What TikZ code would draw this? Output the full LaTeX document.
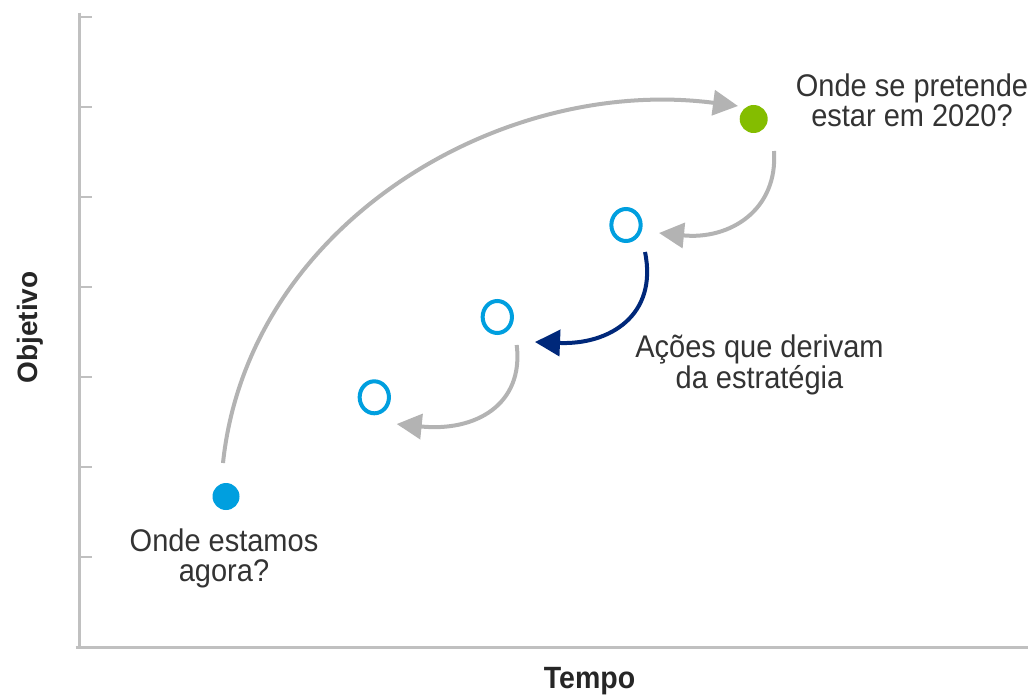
\documentclass[tikz,border=0pt]{standalone}
\usepackage{fontspec}
\usepackage{graphicx}
\setmainfont{Liberation Sans}
\usetikzlibrary{arrows.meta,shapes.geometric}
\definecolor{axisgray}{HTML}{C0C0C0}
\definecolor{arrowgray}{HTML}{B3B3B3}
\definecolor{navyblue}{HTML}{00287A}
\definecolor{skyblue}{HTML}{009FDF}
\definecolor{leafgreen}{HTML}{84BD00}
\definecolor{txtgray}{HTML}{333333}
\definecolor{boldgray}{HTML}{262626}
\newcommand\vstretch[1]{\scalebox{1}[1.08]{#1}}
\begin{document}
\begin{tikzpicture}[x=1bp,y=-1bp,
  axisline/.style={draw=axisgray,line width=3bp},
  tickmark/.style={draw=axisgray,line width=2.6bp},
  grayarrow/.style={draw=arrowgray,line width=4bp,-{Triangle[length=25bp,width=25bp]}},
  navyarrow/.style={draw=navyblue,line width=4bp,-{Triangle[length=25bp,width=26bp]}},
  dotnode/.style={circle,inner sep=0pt,minimum size=27bp},
  ringnode/.style={ellipse,draw=skyblue,line width=4bp,inner sep=0pt,minimum width=29.3bp,minimum height=32bp},
  lbl/.style={inner sep=0pt,text=txtgray,font=\fontsize{29bp}{25bp}\selectfont},
  lblbold/.style={inner sep=0pt,text=boldgray,font=\fontsize{28.5bp}{28.5bp}\selectfont\bfseries}
]
\useasboundingbox (0,0) rectangle (1035,695);
% axes
\draw[axisline] (79,12.7) -- (79,648.5);
\draw[axisline] (75.7,647.3) -- (1027.7,647.3);
\foreach \ty in {17,107,197,287,377,467,557}
  \draw[tickmark] (79,\ty) -- (92,\ty);
% points
\node[dotnode,fill=skyblue] (now) at (226,496.5) {};
\node[dotnode,fill=leafgreen,minimum size=28bp] (goal) at (753.7,119) {};
\node[ringnode] (act1) at (626,225) {};
\node[ringnode] (act2) at (497.3,317) {};
\node[ringnode] (act3) at (374.3,397.3) {};
% labels
\node[lbl,anchor=base] (goaltext) at (912,97)
  {\vstretch{\begin{tabular}[t]{@{}c@{}}Onde se pretende\\estar em 2020?\end{tabular}}};
\node[lbl,anchor=base] (acttext) at (759.5,357)
  {\vstretch{\begin{tabular}[t]{@{}c@{}}Ações que derivam\\da estratégia\end{tabular}}};
\node[lbl,anchor=base] (nowtext) at (224,551.5)
  {\vstretch{\begin{tabular}[t]{@{}c@{}}Onde estamos\\agora?\end{tabular}}};
\node[lblbold,anchor=base] (xlabel) at (589.5,688) {\vstretch{Tempo}};
\node[lblbold,anchor=base,rotate=90,font=\fontsize{28bp}{28bp}\selectfont\bfseries] (ylabel) at (37,327.5) {Objetivo};
% connector end points
\coordinate (bigstart) at ([shift={(-3,-33.5)}]now.center);
\coordinate (bigend) at ([shift={(-15.7,-13)}]goal.center);
\coordinate (g1start) at ([shift={(20.3,32)}]goal.center);
\coordinate (g1end) at ([shift={(33,8)}]act1.center);
\coordinate (n1start) at ([shift={(19,27)}]act1.center);
\coordinate (n1end) at ([shift={(37.7,25)}]act2.center);
\coordinate (g2start) at ([shift={(19.4,28)}]act2.center);
\coordinate (g2end) at ([shift={(22.4,26.7)}]act3.center);
% connectors
\draw[grayarrow] (bigstart) .. controls +(25,-238) and +(-238,-31) .. (bigend);
\draw[grayarrow] (g1start) .. controls +(4,59) and +(71,7) .. (g1end);
\draw[navyarrow] (n1start) .. controls +(13,63) and +(75,3) .. (n1end);
\draw[grayarrow] (g2start) .. controls +(7.3,60) and +(78.3,8) .. (g2end);
\end{tikzpicture}
\end{document}
